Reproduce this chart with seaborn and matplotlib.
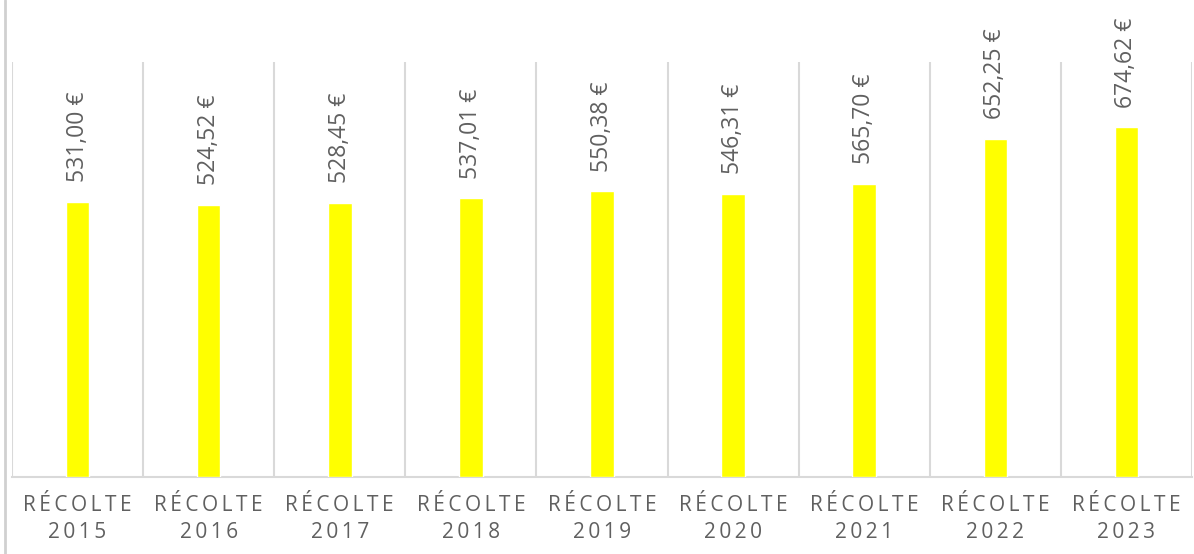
import matplotlib
matplotlib.use("Agg")
import matplotlib.pyplot as plt
from matplotlib.lines import Line2D
import seaborn as sns
import pandas as pd

years = ["2015", "2016", "2017", "2018", "2019", "2020", "2021", "2022", "2023"]
values = [531.00, 524.52, 528.45, 537.01, 550.38, 546.31, 565.70, 652.25, 674.62]
value_labels = ["531,00 €", "524,52 €", "528,45 €", "537,01 €", "550,38 €",
                "546,31 €", "565,70 €", "652,25 €", "674,62 €"]

sns.set_theme(style="white")
plt.rcParams['font.family'] = ['Open Sans', 'DejaVu Sans']

HS = "\u2009"
def spaced(s):
    return HS.join(list(s))

categories = [spaced("RÉCOLTE") + "\n" + spaced(y) for y in years]
df = pd.DataFrame({"cat": categories, "val": values})

fig = plt.figure(figsize=(11.94, 5.54), dpi=100)
ax = fig.add_axes([12/1194, 1 - 477/554, (1192 - 12)/1194, (477 - 62)/554])

sns.barplot(data=df, x="cat", y="val", color="#FFFF00", saturation=1,
            width=0.18, ax=ax, zorder=3)

ax.set_ylim(0, 800)
ax.set_xlim(-0.5, len(years) - 0.5)
ax.set_xlabel("")
ax.set_ylabel("")
ax.set_yticks([])
for s in ["top", "left", "right"]:
    ax.spines[s].set_visible(False)
ax.spines["bottom"].set_color("#d9d9d9")
ax.spines["bottom"].set_linewidth(1.5)

for i in range(len(years) + 1):
    ax.axvline(i - 0.5, color="#d9d9d9", lw=1.5, zorder=1)

ax.tick_params(axis="x", length=0, pad=13, labelsize=15, labelcolor="#606060")
for t in ax.get_xticklabels():
    t.set_linespacing(1.4)

for i, (v, lab) in enumerate(zip(values, value_labels)):
    ax.annotate(lab, xy=(i, v), xytext=(0, 14), textcoords="offset points",
                rotation=90, ha="center", va="bottom", fontsize=16.5,
                color="#606060", clip_on=False, annotation_clip=False)

fig.add_artist(Line2D([5/1194, 5/1194], [0, 1], transform=fig.transFigure,
                      color="#d0d0d0", lw=2))

fig.savefig("out.png", dpi=100, facecolor="white")
